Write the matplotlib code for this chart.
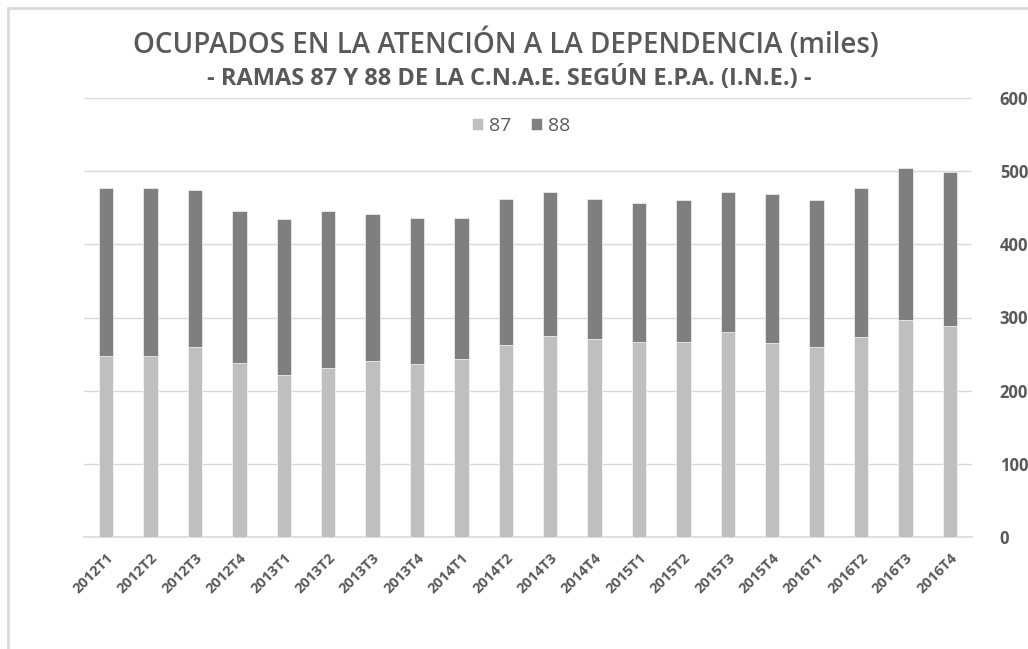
import numpy as np
import matplotlib.pyplot as plt
from matplotlib.patches import Rectangle

# data (miles)
quarters = ['2012T1', '2012T2', '2012T3', '2012T4', '2013T1', '2013T2', '2013T3', '2013T4',
            '2014T1', '2014T2', '2014T3', '2014T4', '2015T1', '2015T2', '2015T3', '2015T4',
            '2016T1', '2016T2', '2016T3', '2016T4']
rama_87 = [248, 247, 259, 238, 222, 231, 240, 236, 243, 262,
           275, 271, 266, 266, 280, 265, 260, 273, 296, 289]
total = [477, 477, 474, 446, 434, 446, 441, 436, 436, 462,
         471, 462, 457, 460, 472, 469, 460, 477, 504, 499]
rama_88 = [t - a for t, a in zip(total, rama_87)]

text_col = '#595959'
grid_col = '#D9D9D9'
plt.rcParams['font.family'] = ['Open Sans', 'DejaVu Sans']

fig = plt.figure(figsize=(10.28, 6.49), dpi=100)
ax = fig.add_axes([84 / 1028, 1 - 537 / 649, 888 / 1028, 439 / 649])

x = np.arange(len(quarters))
w = 0.32
ax.bar(x, rama_87, w, color='#BFBFBF', label='87', edgecolor='white', linewidth=0.4, zorder=3)
ax.bar(x, rama_88, w, bottom=rama_87, color='#7F7F7F', label='88', edgecolor='white', linewidth=0.4, zorder=3)

ax.set_xlim(-0.5, len(quarters) - 0.5)
ax.set_ylim(0, 600)
ax.set_yticks(range(0, 601, 100))
ax.yaxis.tick_right()
ax.grid(axis='y', color=grid_col, linewidth=1, zorder=0)
for s in ['top', 'left', 'right']:
    ax.spines[s].set_visible(False)
ax.spines['bottom'].set_color(grid_col)
ax.spines['bottom'].set_linewidth(1.2)
ax.tick_params(axis='both', length=0, colors=text_col)
ax.tick_params(axis='y', pad=20, labelsize=12)
ax.set_xticks(x)
ax.set_xticklabels(quarters, rotation=45, ha='right', rotation_mode='anchor', fontsize=10.5, fontweight='bold')
for lab in ax.get_yticklabels():
    lab.set_fontweight('bold')
ax.tick_params(axis='x', pad=10)

leg = ax.legend(loc='center', ncol=2, frameon=False,
                fontsize=14, handlelength=0.6, handleheight=0.6, handletextpad=0.3,
                columnspacing=1.0, labelcolor=text_col)
leg.set_bbox_to_anchor((521 / 1028, 1 - 126 / 649), transform=fig.transFigure)

fig.text(506 / 1028, 1 - 44 / 649, 'OCUPADOS EN LA ATENCIÓN A LA DEPENDENCIA (miles)',
         ha='center', va='center', fontsize=20, fontweight='semibold', color=text_col)
fig.text(509 / 1028, 1 - 78 / 649, '- RAMAS 87 Y 88 DE LA C.N.A.E. SEGÚN E.P.A. (I.N.E.) -',
         ha='center', va='center', fontsize=17, fontweight='bold', color=text_col)

# chart border (light frame, cut at right and bottom like the screenshot)
fig.patches.append(Rectangle((8 / 1028, -0.05), 1.1, 1 - 8 / 649 + 0.05, transform=fig.transFigure,
                             fill=False, edgecolor=grid_col, linewidth=2))

fig.savefig('out.png', dpi=100)
